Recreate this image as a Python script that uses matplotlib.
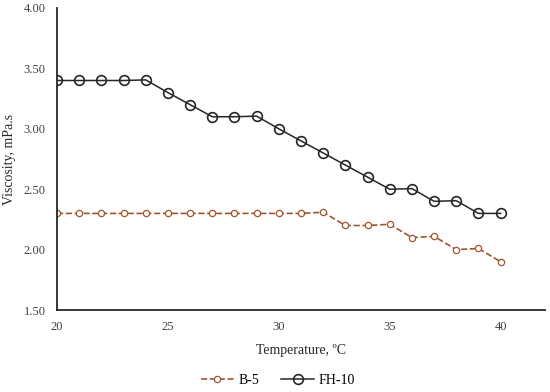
import numpy as np
import matplotlib.pyplot as plt

plt.rcParams['font.family'] = ['Liberation Serif', 'DejaVu Serif']

temperature = list(range(20, 41))
b5 = [2.30, 2.30, 2.30, 2.30, 2.30, 2.30, 2.30, 2.30, 2.30, 2.30, 2.30, 2.30, 2.31,
      2.20, 2.20, 2.21, 2.10, 2.11, 2.00, 2.01, 1.90]
fh10 = [3.40, 3.40, 3.40, 3.40, 3.405, 3.30, 3.20, 3.10, 3.10, 3.105, 3.00, 2.90, 2.80,
        2.70, 2.60, 2.50, 2.505, 2.40, 2.405, 2.30, 2.30]
y_ticks = [1.50, 2.00, 2.50, 3.00, 3.50, 4.00]
x_ticks = [20, 25, 30, 35, 40]

fig = plt.figure(figsize=(5.5, 3.92), dpi=100)
ax = fig.add_axes([0.1036, 0.209, 0.8874, 0.7706])

ax.plot(temperature, b5, linestyle='--', color='#a0552f', linewidth=1.2,
        marker='o', markersize=4.5, markerfacecolor='white',
        markeredgecolor='#a0552f', markeredgewidth=0.9, label='B-5')
ax.plot(temperature, fh10, linestyle='-', color='#262626', linewidth=1.1,
        marker='o', markersize=7, markerfacecolor='none',
        markeredgecolor='#262626', markeredgewidth=1.2, label='FH-10')

ax.set_xlim(20, 42)
ax.set_ylim(1.5, 4.0)
ax.set_xticks(x_ticks)
ax.set_yticks(y_ticks)
ax.set_yticklabels([f'{v:.2f}' for v in y_ticks])
ax.tick_params(length=0, labelsize=9, colors='#404040', pad=8)

for side in ['top', 'right']:
    ax.spines[side].set_visible(False)
for side in ['left', 'bottom']:
    ax.spines[side].set_color('#262626')
    ax.spines[side].set_linewidth(1.3)

ax.set_xlabel('Temperature, ºC', fontsize=10, color='#262626', labelpad=8)
ax.set_ylabel('Viscosity, mPa.s', fontsize=10, color='#262626', labelpad=6)

fig.legend(loc='center', bbox_to_anchor=(0.505, 0.03), ncol=2, frameon=False,
           fontsize=10, handlelength=2.4, columnspacing=1.6, handletextpad=0.3,
           borderpad=0.1)

fig.savefig('out.png', dpi=100)
